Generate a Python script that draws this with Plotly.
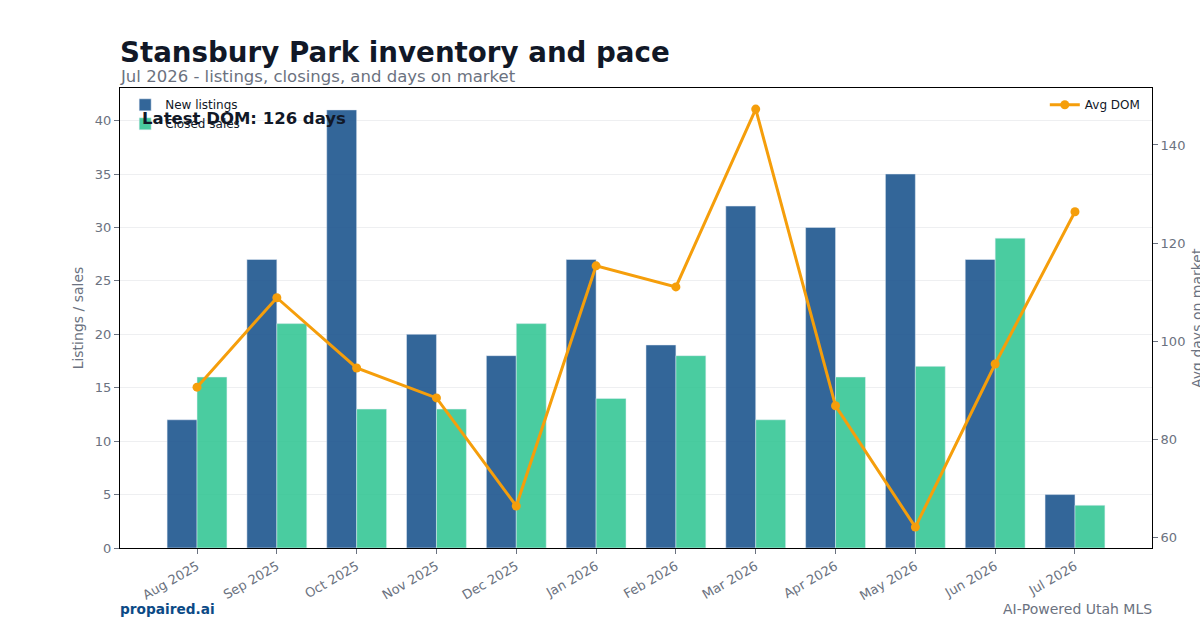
import plotly.graph_objects as go

months = ["Aug 2025", "Sep 2025", "Oct 2025", "Nov 2025", "Dec 2025", "Jan 2026",
          "Feb 2026", "Mar 2026", "Apr 2026", "May 2026", "Jun 2026", "Jul 2026"]
new_listings = [12, 27, 41, 20, 18, 27, 19, 32, 30, 35, 27, 5]
closed_sales = [16, 21, 13, 13, 21, 14, 18, 12, 16, 17, 29, 4]
avg_dom = [90.7, 108.9, 94.6, 88.5, 66.5, 115.4, 111.1, 147.3, 86.9, 62.2, 95.4, 126.4]

FONT = "DejaVu Sans"
GRAY = "#6b7280"

fig = go.Figure()
fig.add_trace(go.Bar(x=months, y=new_listings, name="New listings", marker_color="#1e568f",
                     opacity=0.9, legend="legend"))
fig.add_trace(go.Bar(x=months, y=closed_sales, name="Closed sales", marker_color="#37c796",
                     opacity=0.9, legend="legend"))
fig.add_trace(go.Scatter(x=months, y=avg_dom, name="Avg DOM", mode="lines+markers",
                         line=dict(color="#f59e0b", width=3), marker=dict(size=9, color="#f59e0b"),
                         yaxis="y2", legend="legend2"))

fig.update_layout(
    width=1200, height=630,
    margin=dict(l=120, r=48, t=88, b=82),
    paper_bgcolor="white", plot_bgcolor="white",
    font=dict(family=FONT, color=GRAY, size=13),
    barmode="group",
    bargap=0.25,
    bargroupgap=0,
    showlegend=True,
    legend=dict(x=0.005, y=0.995, xanchor="left", yanchor="top", bgcolor="rgba(0,0,0,0)",
                font=dict(size=12, color="#111827")),
    legend2=dict(x=0.994, y=0.995, xanchor="right", yanchor="top", bgcolor="rgba(0,0,0,0)",
                 font=dict(size=12, color="#111827")),
    xaxis=dict(type="category", tickangle=-30,
               ticks="outside", tickcolor=GRAY, ticklen=5,
               range=[-0.965, 11.965], automargin=False,
               showline=True, linecolor="black", linewidth=1, mirror=True,
               showgrid=False, tickfont=dict(size=13, color=GRAY)),
    yaxis=dict(title=dict(text="Listings / sales", font=dict(size=14, color=GRAY), standoff=7),
               range=[0, 43.05], dtick=5, ticks="outside", tickcolor=GRAY, ticklen=5,
               showline=True, linecolor="black", linewidth=1, mirror=True, automargin=False,
               showgrid=True, gridcolor="#eeeff1", zeroline=False,
               tickfont=dict(size=13, color=GRAY)),
    yaxis2=dict(overlaying="y", side="right", range=[57.95, 151.6], dtick=20, automargin=False,
                ticks="outside", tickcolor=GRAY, ticklen=5, showgrid=False, zeroline=False,
                tickfont=dict(size=13, color=GRAY)),
    annotations=[
        dict(text="Avg days on market", xref="paper", yref="paper",
             x=1.0436, y=0.5, xanchor="center", yanchor="middle", textangle=-90,
             showarrow=False, font=dict(size=14, color=GRAY)),
        dict(text="<b>Stansbury Park inventory and pace</b>", xref="paper", yref="paper",
             x=-0.002, y=1.078, xanchor="left", yanchor="middle", showarrow=False,
             font=dict(size=27.7, color="#111827")),
        dict(text="Jul 2026 - listings, closings, and days on market", xref="paper", yref="paper",
             x=-0.002, y=1.025, xanchor="left", yanchor="middle", showarrow=False,
             font=dict(size=16.5, color=GRAY)),
        dict(text="<b>Latest DOM: 126 days</b>", xref="paper", yref="paper",
             x=0.019, y=0.933, xanchor="left", yanchor="middle", showarrow=False,
             font=dict(size=16.5, color="#111827")),
        dict(text="<b>propaired.ai</b>", xref="paper", yref="paper",
             x=-0.002, y=-0.1326, xanchor="left", yanchor="middle", showarrow=False,
             font=dict(size=13.7, color="#0b4a86")),
        dict(text="AI-Powered Utah MLS", xref="paper", yref="paper",
             x=1.002, y=-0.1326, xanchor="right", yanchor="middle", showarrow=False,
             font=dict(size=14, color=GRAY)),
    ],
)

fig.write_html("out.html")
